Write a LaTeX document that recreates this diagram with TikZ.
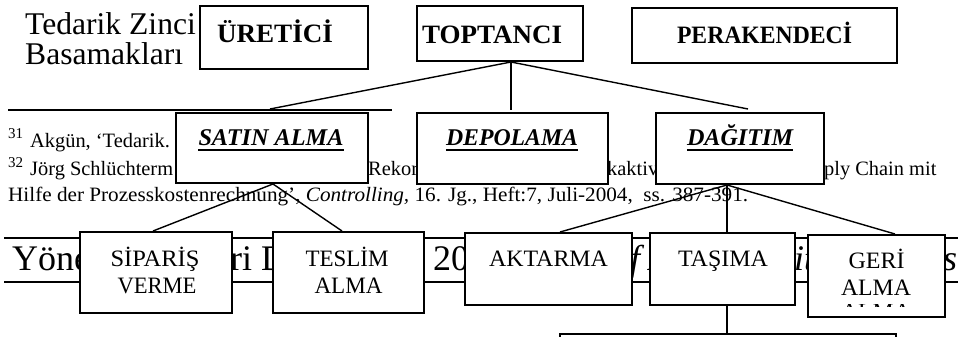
\documentclass[tikz,border=0pt]{standalone}
\usepackage{fontspec}
\setmainfont{Liberation Serif}
\usepackage{graphicx}
\usetikzlibrary{calc}
\newcommand{\fs}[1]{\fontsize{#1}{#1}\selectfont}
\newcommand{\fw}[2]{\resizebox{#1pt}{\height}{#2}}
\begin{document}
\begin{tikzpicture}[x=1pt,y=-1pt,
  bx/.style={draw, line width=2pt, fill=white, inner sep=0pt},
  tx/.style={inner sep=0pt, anchor=base},
  txw/.style={inner sep=0pt, anchor=base west},
  ln/.style={line width=1.4pt},
  rulel/.style={line width=2.6pt},
  ul/.style={line width=2pt}]
\useasboundingbox (0,0) rectangle (958,337);
\clip (0,0) rectangle (958,337);
% ---------- background page text ----------
\node[txw] (t1) at (25,35) {\fs{31.6}Tedarik Zinci};
\node[txw] (t2) at (25,64) {\fs{31.6}Basamakları};
\coordinate (r1a) at (8,110);
\coordinate (r1b) at (392,110);
\draw[rulel] (r1a) -- (r1b);
\node[txw] (s31) at (8,138) {\fs{15}31};
\node[txw] (f1) at (30,147) {\fs{20.4}Akgün, ‘Tedarik.};
\node[txw] (s32) at (8,167) {\fs{15}32};
\node[txw] (f2a) at (30,175) {\fs{20.4}Jörg Schlüchterm};
\node[txw] (f2b) at (368,175) {\fs{20.4}Rekor};
\node[txw] (f2c) at (607,175) {\fs{20.4}kaktiv};
\node[txw] (f2d) at (824,175) {\fs{20.4}ply Chain mit};
\node[txw] (f3) at (8,201) {\fs{20.4}\fw{740}{Hilfe der Prozesskostenrechnung’, \textit{Controlling,} 16. Jg., Heft:7, Juli-2004,\ \ ss. 387-391.}};
% footer
\coordinate (r2a) at (4,238);
\coordinate (r2b) at (958,238);
\coordinate (r3a) at (4,282);
\coordinate (r3b) at (958,282);
\draw[rulel] (r2a) -- (r2b);
\draw[rulel] (r3a) -- (r3b);
\node[txw] (y1) at (12,270) {\fs{36}Yöne};
\node[txw] (y2) at (230,270) {\fs{36}ri D};
\node[txw] (y3) at (433,270) {\fs{36}20};
\node[txw] (y4) at (630,270) {\fs{36}\textit{f A}};
\node[txw] (y5) at (794,270) {\fs{36}\textit{iti}};
\node[txw] (y6) at (943,270) {\fs{36}\textit{s}};
% ---------- boxes ----------
\node[bx, minimum width=168pt, minimum height=63pt] (ure) at (284,37.5) {};
\node[bx, minimum width=166pt, minimum height=55pt] (top) at (500,33.5) {};
\node[bx, minimum width=265pt, minimum height=55pt] (per) at (764.5,35.5) {};
\node[bx, minimum width=192pt, minimum height=70pt] (sat) at (272,148) {};
\node[bx, minimum width=191pt, minimum height=71pt] (dep) at (512.5,148.5) {};
\node[bx, minimum width=168pt, minimum height=71pt] (dag) at (740,148.5) {};
\node[bx, minimum width=152pt, minimum height=81pt] (sip) at (156,272.5) {};
\node[bx, minimum width=151pt, minimum height=81pt] (tes) at (348.5,272.5) {};
\node[bx, minimum width=167pt, minimum height=72pt] (akt) at (548.5,269) {};
\node[bx, minimum width=145pt, minimum height=72pt] (tas) at (722.5,269) {};
\node[bx, minimum width=137pt, minimum height=82pt] (ger) at (876.5,276) {};
\node[bx, minimum width=336pt, minimum height=46pt] (bot) at (728,357) {};
% ---------- box texts ----------
\node[tx] (ureT) at (275,43) {\fs{26.5}\bfseries\fw{116}{ÜRETİCİ}};
\node[tx] (topT) at (492,43) {\fs{26.5}\bfseries\fw{140}{TOPTANCI}};
\node[tx] (perT) at (764.5,43.5) {\fs{25}\bfseries\fw{175}{PERAKENDECİ}};
\node[tx] (satT) at (271,145) {\fs{24}\bfseries\itshape\fw{145}{SATIN ALMA}};
\node[tx] (depT) at (512,145) {\fs{24}\bfseries\itshape\fw{132}{DEPOLAMA}};
\node[tx] (dagT) at (740,145) {\fs{24}\bfseries\itshape\fw{106}{DAĞITIM}};
\draw[ul] ([yshift=-5pt]satT.base west) -- ([yshift=-5pt]satT.base east);
\draw[ul] ([yshift=-5pt]depT.base west) -- ([yshift=-5pt]depT.base east);
\draw[ul] ([yshift=-5pt]dagT.base west) -- ([yshift=-5pt]dagT.base east);
\node[tx] (sipT1) at (155,266) {\fs{23.5}\fw{89}{SİPARİŞ}};
\node[tx] (sipT2) at (157,293) {\fs{23.5}\fw{79}{VERME}};
\node[tx] (tesT1) at (347,266) {\fs{23.5}\fw{83}{TESLİM}};
\node[tx] (tesT2) at (348.5,293) {\fs{23.5}\fw{68}{ALMA}};
\node[tx] (aktT) at (548.5,266) {\fs{23.5}\fw{119}{AKTARMA}};
\node[tx] (tasT) at (723,266) {\fs{23.5}\fw{90}{TAŞIMA}};
\node[tx] (gerT1) at (876.5,268) {\fs{23.5}\fw{56}{GERİ}};
\node[tx] (gerT2) at (876,295) {\fs{23.5}\fw{70}{ALMA}};
\begin{scope}
\clip (830,304) rectangle (905,306);
\node[tx] (gerT3) at (876,319) {\fs{23.5}\fw{70}{ALMA}};
\end{scope}
% ---------- connectors ----------
\coordinate (topS) at ([xshift=11pt]top.south);
\coordinate (satS) at ([xshift=1pt]sat.south);
\coordinate (dagS) at ([xshift=-13pt]dag.south);
\coordinate (tasS) at ([xshift=4.5pt]tas.south);
\draw[ln] (topS) -- ([xshift=-2pt,yshift=3pt]sat.north);
\draw[ln] (topS) -- (topS |- r1a);
\draw[ln] (topS) -- ([xshift=8pt,yshift=3pt]dag.north);
\draw[ln] (satS) -- ([xshift=-3pt]sip.north);
\draw[ln] (satS) -- ([xshift=-6.5pt]tes.north);
\draw[ln] (dagS) -- ([xshift=11.5pt]akt.north);
\draw[ln] (dagS) -- (dagS |- tas.north);
\draw[ln] (dagS) -- ([xshift=18.5pt]ger.north);
\draw[ln] (tasS) -- (tasS |- bot.north);
\end{tikzpicture}
\end{document}
